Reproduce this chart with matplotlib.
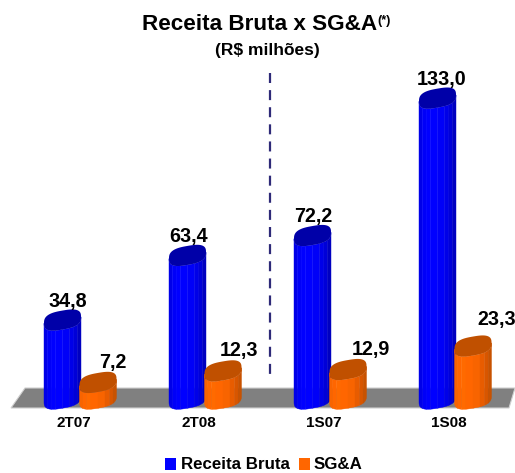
import numpy as np
from matplotlib import pyplot as plt
from matplotlib.patches import Polygon, Rectangle

categories = ["2T07", "2T08", "1S07", "1S08"]
receita_bruta = [34.8, 63.4, 72.2, 133.0]
sga = [7.2, 12.3, 12.9, 23.3]

# pixel layout of the original picture
W, H = 515, 473
PX_PER_UNIT = 2.26
ZERO_Y = 398.7
FIRST_X = 80
STEP_X = 125
BAR_W = 37 / STEP_X

BLUE_SHADES = ["#0000e8", "#0000f8", "#0000ff", "#0000ff", "#0000f8", "#0000e8", "#0000d8", "#0000c0"]
ORANGE_SHADES = ["#f86400", "#ff6600", "#ff6a00", "#ff6600", "#f86400", "#e85c00", "#d85600", "#c85200"]

plt.rcParams["font.family"] = ["Liberation Sans", "DejaVu Sans"]
fig = plt.figure(figsize=(W / 100, H / 100), dpi=100)
ax = fig.add_axes([0, 0, 1, 1])
ax.set_xlim(-FIRST_X / STEP_X, (W - FIRST_X) / STEP_X)
ax.set_ylim((ZERO_Y - H) / PX_PER_UNIT, ZERO_Y / PX_PER_UNIT)
ax.axis("off")


def px_x(p):
    return (p - FIRST_X) / STEP_X


def px_y(p):
    return (ZERO_Y - p) / PX_PER_UNIT


def rim(x, value, t):
    # squarish tilted ellipse used for the top and the bottom of a cylinder
    c, s = np.cos(t), np.sin(t)
    ux = np.sign(c) * np.abs(c) ** 0.7
    uy = np.sign(s) * np.abs(s) ** 0.7
    dy = (9.5 * uy + 3.2 * ux) / PX_PER_UNIT
    return x + BAR_W / 2 * ux, value + dy


def cylinder(x, value, shades, edge, cap):
    # facets are evenly wide, so walk the lower half of the rim by x
    t = 2 * np.pi - np.arccos(np.linspace(-1, 1, len(shades) + 1))
    for i, shade in enumerate(shades):
        tt = np.linspace(t[i], t[i + 1], 8)
        bx, by = rim(x, 0, tt)
        tx, ty = rim(x, value, tt)
        pts = np.r_[np.c_[bx, by], np.c_[tx, ty][::-1]]
        ax.add_patch(Polygon(pts, fc=shade, ec=shade, lw=0.3, zorder=3))
        if 0 < i < len(shades) - 1 and i % 2 == 1:
            ax.plot([tx[-1], bx[-1]], [ty[-1], by[-1]], color=edge, lw=0.4, alpha=0.6, zorder=3)
    tt = np.linspace(0, 2 * np.pi, 120)
    cx, cy = rim(x, value, tt)
    ax.add_patch(Polygon(np.c_[cx, cy], fc=cap, ec="none", zorder=4))


# floor
floor = [(11, 408), (25, 388), (515, 388), (509, 408)]
ax.add_patch(Polygon([(px_x(a), px_y(b)) for a, b in floor], fc="#808080", ec="#d0d0d0", lw=0.8, zorder=1))

ax.plot([px_x(270)] * 2, [px_y(73), px_y(375)], color="#2e2a78", lw=1.6, dashes=(4.5, 3.2), zorder=2)

blue_off = [(5, 19), (1, 19), (1, 19), (4, 19)]
orange_off = [(15, 20), (16, 20), (23, 20), (24, 27)]

for i, cat in enumerate(categories):
    xb = i - 17.5 / STEP_X
    xo = i + 18 / STEP_X
    cylinder(xb, receita_bruta[i], BLUE_SHADES, "#6060ff", "#0000a8")
    cylinder(xo, sga[i], ORANGE_SHADES, "#ffa060", "#c05000")
    ax.annotate(f"{receita_bruta[i]:.1f}".replace(".", ","), (xb, receita_bruta[i]),
                xytext=blue_off[i], textcoords="offset pixels", ha="center", va="center",
                fontsize=14.2, fontweight="bold", zorder=5)
    ax.annotate(f"{sga[i]:.1f}".replace(".", ","), (xo, sga[i]),
                xytext=orange_off[i], textcoords="offset pixels", ha="center", va="center",
                fontsize=14.2, fontweight="bold", zorder=5)
    ax.text(i - 6 / STEP_X, px_y(423), cat, ha="center", va="center", fontsize=11, fontweight="bold")

ax.text(px_x(142), px_y(25), "Receita Bruta x SG&A", ha="left", va="center", fontsize=16.2, fontweight="bold")
ax.text(px_x(377), px_y(21), "(*)", ha="left", va="center", fontsize=9, fontweight="bold")
ax.text(px_x(267), px_y(51), "(R$ milhões)", ha="center", va="center", fontsize=12.5, fontweight="bold")

# legend
ax.add_patch(Rectangle((px_x(165), px_y(470)), 11 / STEP_X, 12 / PX_PER_UNIT, fc="#0000ff", ec="none"))
ax.add_patch(Rectangle((px_x(299), px_y(470)), 11 / STEP_X, 12 / PX_PER_UNIT, fc="#ff6600", ec="none"))
ax.text(px_x(181), px_y(464), "Receita Bruta", ha="left", va="center", fontsize=12.2, fontweight="bold")
ax.text(px_x(314), px_y(464), "SG&A", ha="left", va="center", fontsize=12.2, fontweight="bold")

fig.savefig("out.png", dpi=100)
